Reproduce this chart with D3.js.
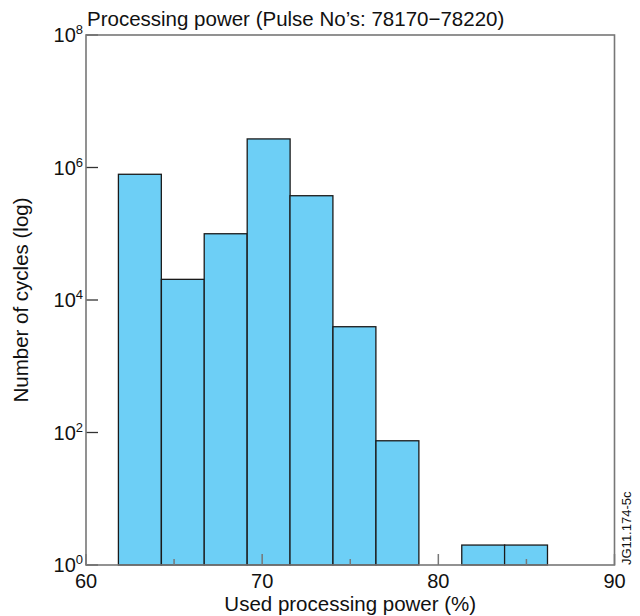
<!DOCTYPE html>
<html>
<head>
<meta charset="utf-8">
<script src="https://cdn.jsdelivr.net/npm/d3@7"></script>
<style>
  body { margin: 0; background: #fff; }
  text { font-family: "Liberation Sans", Arial, Helvetica, sans-serif; fill: #111; }
</style>
</head>
<body>
<svg id="chart" width="640" height="616"></svg>
<script>
// ---- data ----
const binStarts = [61.84, 64.28, 66.71, 69.15, 71.58, 74.02, 76.46, 78.89, 81.33, 83.76];
const binWidth = 2.436;
const counts = [790000, 20500, 100000, 2700000, 375000, 3950, 75, 0, 2, 2];
const xTicksMajor = [60, 70, 80, 90];
const xTicksMinor = [65, 75, 85];
const yTickExps = [0, 2, 4, 6, 8];
const titleText = "Processing power (Pulse No\u2019s: 78170\u221278220)";
const xLabel = "Used processing power (%)";
const yLabel = "Number of cycles (log)";
const stamp = "JG11.174-5c";

// ---- layout ----
const svg = d3.select("#chart");
const L = 86, R = 614.5, T = 35, B = 565;
const x = d3.scaleLinear().domain([60, 90]).range([L, R]);
const y = d3.scaleLog().domain([1, 1e8]).range([B, T]);

// bars
const bars = binStarts.map((s, i) => ({ x0: s, x1: s + binWidth, v: counts[i] })).filter(d => d.v > 0);
svg.append("g").selectAll("rect").data(bars).join("rect")
  .attr("x", d => x(d.x0))
  .attr("y", d => y(d.v))
  .attr("width", d => x(d.x1) - x(d.x0))
  .attr("height", d => y(1) - y(d.v))
  .attr("fill", "#6dcff6")
  .attr("stroke", "#1a1a1a")
  .attr("stroke-width", 1.3);

// x ticks (inward)
const tickColor = "#777";
svg.append("g").selectAll("line.maj").data(xTicksMajor).join("line")
  .attr("x1", d => x(d)).attr("x2", d => x(d))
  .attr("y1", B).attr("y2", B - 11)
  .attr("stroke", tickColor).attr("stroke-width", 1.5);
svg.append("g").selectAll("line.min").data(xTicksMinor).join("line")
  .attr("x1", d => x(d)).attr("x2", d => x(d))
  .attr("y1", B).attr("y2", B - 6)
  .attr("stroke", tickColor).attr("stroke-width", 1.5);

// y ticks (inward)
svg.append("g").selectAll("line").data(yTickExps).join("line")
  .attr("x1", L).attr("x2", L + 12)
  .attr("y1", d => y(Math.pow(10, d))).attr("y2", d => y(Math.pow(10, d)))
  .attr("stroke", "#333").attr("stroke-width", 1.3);

// frame
svg.append("rect")
  .attr("x", L).attr("y", T)
  .attr("width", R - L).attr("height", B - T)
  .attr("fill", "none").attr("stroke", tickColor).attr("stroke-width", 1.6);

// x tick labels
svg.append("g").selectAll("text").data(xTicksMajor).join("text")
  .attr("x", d => x(d)).attr("y", 588)
  .attr("text-anchor", "middle")
  .attr("font-size", 20)
  .text(d => d);

// y tick labels with superscripts
const yl = svg.append("g").selectAll("text").data(yTickExps).join("text")
  .attr("x", L - 3).attr("y", d => y(Math.pow(10, d)) + 7)
  .attr("text-anchor", "end")
  .attr("font-size", 20);
yl.append("tspan").text("10");
yl.append("tspan").attr("dy", -8).attr("font-size", 13).text(d => d);

// title
svg.append("text")
  .attr("x", 87).attr("y", 26)
  .attr("font-size", 20.5)
  .text(titleText);

// axis labels
svg.append("text")
  .attr("x", (L + R) / 2).attr("y", 611)
  .attr("text-anchor", "middle")
  .attr("font-size", 20.5)
  .text(xLabel);

svg.append("text")
  .attr("transform", `translate(28, ${(T + B) / 2}) rotate(-90)`)
  .attr("text-anchor", "middle")
  .attr("font-size", 20.5)
  .text(yLabel);

// stamp
svg.append("text")
  .attr("transform", "translate(631, 565) rotate(-90)")
  .attr("text-anchor", "start")
  .attr("font-size", 13)
  .text(stamp);
</script>
</body>
</html>
